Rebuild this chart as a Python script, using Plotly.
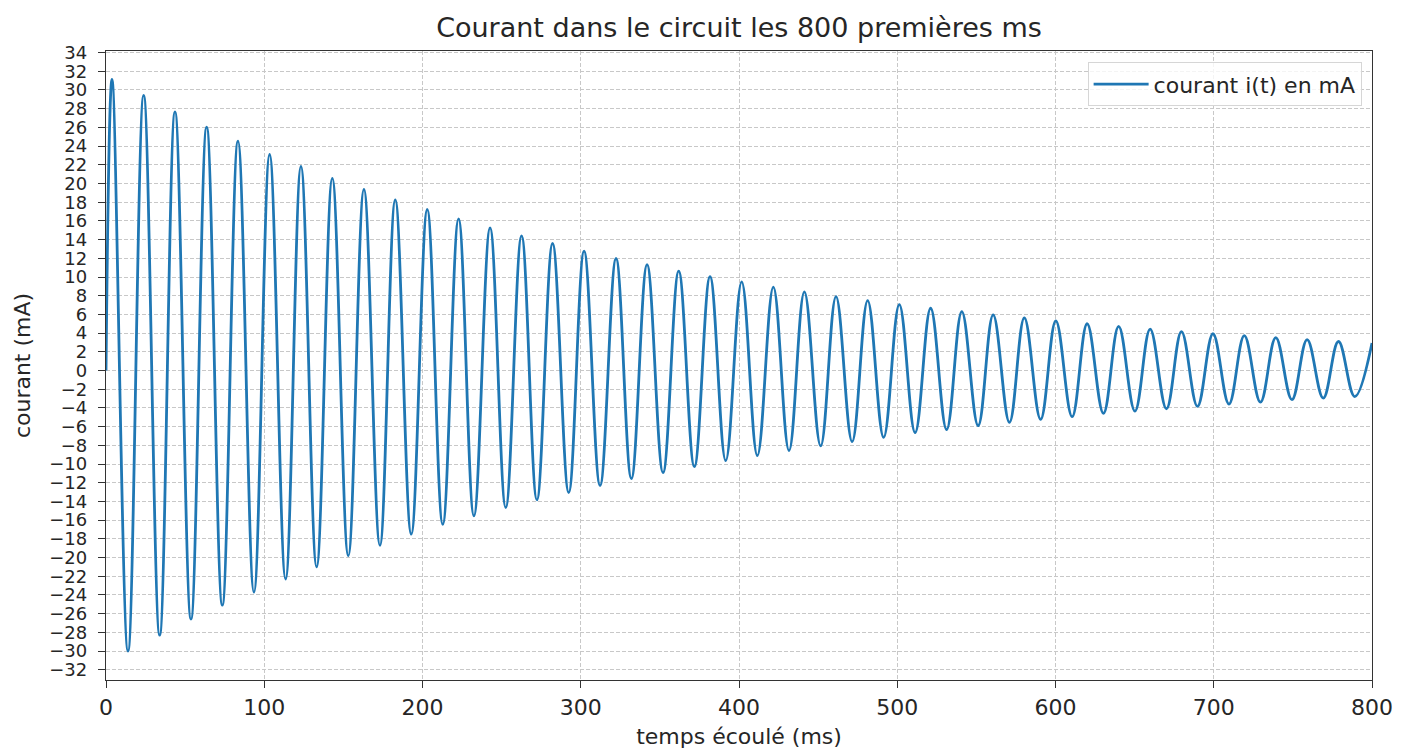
import plotly.graph_objects as go

# Extrema (time in ms, current in mA)
peak_t = [3.8, 23.8, 43.6, 63.6, 83.4, 103.4, 123.2, 143.0, 163.0, 182.8,
          203.0, 222.8, 242.7, 262.6, 282.2, 302.1, 322.3, 341.9, 361.9, 381.7,
          401.7, 421.7, 441.3, 461.3, 481.3, 501.3, 521.1, 540.8, 560.6, 580.3,
          600.2, 620.0, 639.9, 659.8, 679.6, 699.5, 719.3, 739.2, 759.0, 778.8]
peak_i = [31.13, 29.42, 27.67, 26.03, 24.53, 23.10, 21.82, 20.54, 19.36, 18.25,
          17.22, 16.22, 15.25, 14.40, 13.58, 12.76, 11.98, 11.33, 10.62, 10.05,
          9.47, 8.91, 8.41, 7.91, 7.48, 7.05, 6.66, 6.30, 5.95, 5.63,
          5.31, 5.00, 4.71, 4.43, 4.15, 3.93, 3.72, 3.51, 3.30, 3.10]
trough_t = [13.9, 33.9, 53.7, 73.5, 93.5, 113.5, 133.1, 153.1, 173.1, 192.9,
            212.8, 232.5, 252.6, 272.3, 292.4, 312.2, 332.0, 352.0, 371.8, 391.6,
            411.6, 431.6, 451.6, 471.5, 491.4, 511.3, 531.2, 551.1, 570.9, 590.6,
            610.5, 630.3, 650.2, 670.1, 689.7, 709.6, 729.5, 749.4, 769.2, 789.1]
trough_i = [-30.0, -28.3, -26.6, -25.1, -23.7, -22.3, -21.0, -19.8, -18.7, -17.5,
            -16.46, -15.54, -14.65, -13.83, -13.05, -12.30, -11.56, -10.92, -10.28, -9.64,
            -9.10, -8.57, -8.07, -7.61, -7.15, -6.65, -6.33, -5.90, -5.55, -5.23,
            -4.94, -4.59, -4.34, -4.09, -3.84, -3.59, -3.38, -3.12, -2.96, -2.79]
start_t, start_i = 0.0, 0.0
end_t, end_i = 800.0, 2.95

x_ticks = [0, 100, 200, 300, 400, 500, 600, 700, 800]
y_ticks = list(range(-32, 35, 2))

t = [start_t]
cur = [start_i]
for k in range(len(peak_t)):
    t.append(peak_t[k]); cur.append(peak_i[k])
    if k < len(trough_t):
        t.append(trough_t[k]); cur.append(trough_i[k])
t.append(end_t); cur.append(end_i)

FONT = "DejaVu Sans"
TXT = "#262626"

fig = go.Figure()
fig.add_trace(go.Scatter(
    x=t, y=cur, mode="lines", name="courant i(t) en mA",
    line=dict(color="#1f77b4", width=2.8, shape="spline", smoothing=1.1),
))

axis_common = dict(
    showline=True, linecolor="#333333", linewidth=1.3, mirror=True,
    ticks="outside", ticklen=7, tickwidth=1.3, tickcolor="#333333",
    showgrid=True, gridcolor="#c8c8c8", gridwidth=1, griddash="4px,2px",
    zeroline=False, automargin=False,
)

fig.update_xaxes(
    range=[0, 800], tickmode="array", tickvals=x_ticks,
    tickfont=dict(family=FONT, size=22, color=TXT),
    title=dict(text="temps écoulé (ms)", font=dict(family=FONT, size=22, color=TXT), standoff=10),
    **axis_common,
)
fig.update_yaxes(
    range=[-33.1, 34.17], tickmode="array", tickvals=y_ticks,
    tickfont=dict(family=FONT, size=18, color=TXT),
    title=dict(text="courant (mA)", font=dict(family=FONT, size=22, color=TXT), standoff=12),
    ticklabelstandoff=7,
    **axis_common,
)

fig.update_layout(
    width=1411, height=753,
    margin=dict(l=106, r=39, t=51, b=73),
    paper_bgcolor="white", plot_bgcolor="white",
    font=dict(family=FONT, color=TXT),
    title=dict(text="Courant dans le circuit les 800 premières ms",
               font=dict(family=FONT, size=27, color=TXT),
               x=0.5, xref="paper", y=1 - 28 / 753, yref="container",
               xanchor="center", yanchor="middle"),
    showlegend=True,
    legend=dict(x=0.9918, y=0.982, xanchor="right", yanchor="top",
                itemwidth=55,
                bgcolor="rgba(255,255,255,0.8)", bordercolor="#d6d6d6", borderwidth=1,
                font=dict(family=FONT, size=22, color=TXT)),
)

fig.write_html("out.html")
